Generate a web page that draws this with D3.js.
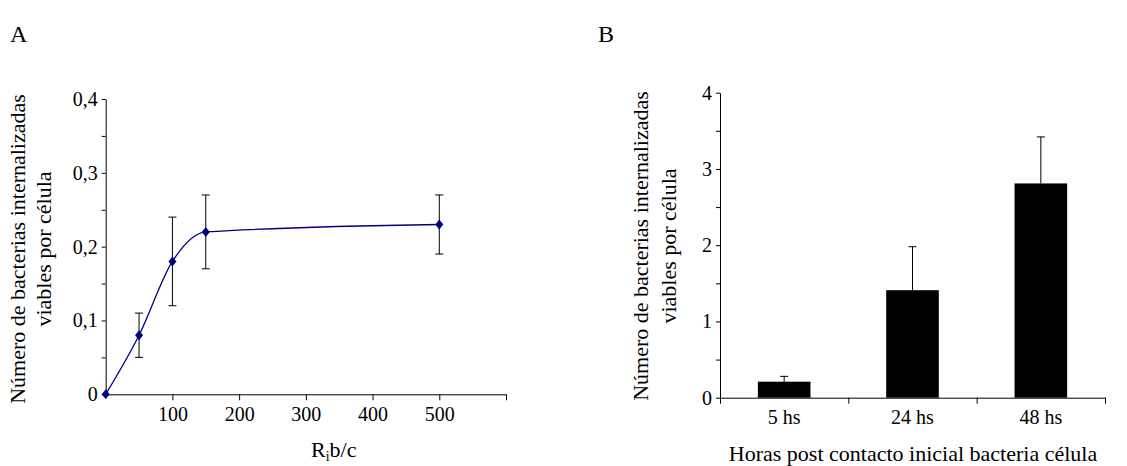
<!DOCTYPE html>
<html>
<head>
<meta charset="utf-8">
<script src="https://cdn.jsdelivr.net/npm/d3@7"></script>
<style>
  body { margin: 0; background: #fff; }
  svg { display: block; font-family: "Liberation Serif", "Times New Roman", serif; }
  .axis path, .axis line { stroke: #000; }
  .axis text { font-family: "Liberation Serif", "Times New Roman", serif; font-size: 20px; fill: #000; }
</style>
</head>
<body>
<svg id="chart" width="1127" height="466"></svg>
<script>
// panel A: bacteria per cell vs ratio
var ratio = [0, 50, 100, 150, 500];
var perCell = [0, 0.08, 0.18, 0.22, 0.23];
var errLow = [null, 0.05, 0.12, 0.17, 0.19];
var errHigh = [null, 0.11, 0.24, 0.27, 0.27];
var ratioTicks = [100, 200, 300, 400, 500, 600];
var perCellTicks = [0, 0.05, 0.1, 0.15, 0.2, 0.25, 0.3, 0.35, 0.4];

// panel B: bacteria per cell vs time
var hours = ["5 hs", "24 hs", "48 hs"];
var hourValues = [0.21, 1.41, 2.81];
var hourErrTop = [0.28, 1.98, 3.42];
var hourTicks = [0, 0.5, 1, 1.5, 2, 2.5, 3, 3.5, 4];

var yTitle = ["Número de bacterias internalizadas", "viables por célula"];

var svg = d3.select("#chart");
var navy = "#000080";

var comma = d => d === 0 ? "0" : d3.format(".1f")(d).replace(".", ",");

// ---------- A ----------
var xA = d3.scaleLinear().domain([0, 600]).range([105.7, 506]);
var yA = d3.scaleLinear().domain([0, 0.4]).range([394.3, 99]);

svg.append("g").attr("class", "axis")
  .attr("transform", "translate(" + xA(0) + ",0)")
  .call(d3.axisLeft(yA).tickValues(perCellTicks).tickSize(4).tickSizeOuter(0)
    .tickFormat(d => Math.round(d * 100) % 10 === 0 ? comma(d) : ""))
  .call(g => g.selectAll("text").attr("x", -8));

svg.append("g").attr("class", "axis")
  .attr("transform", "translate(0," + yA(0) + ")")
  .call(d3.axisBottom(xA).tickValues(ratioTicks).tickSize(6).tickSizeOuter(0)
    .tickFormat(d => d < 600 ? d : ""))
  .call(g => g.selectAll("text").attr("y", 13));

var ptsA = ratio.map((r, i) => ({x: r, y: perCell[i], lo: errLow[i], hi: errHigh[i]}));

svg.append("path")
  .datum(ptsA)
  .attr("fill", "none")
  .attr("stroke", navy)
  .attr("stroke-width", 1.3)
  .attr("d", d3.line().x(d => xA(d.x)).y(d => yA(d.y)).curve(d3.curveMonotoneX));

var errA = svg.append("g").attr("stroke", "#000").attr("stroke-width", 1);
ptsA.filter(d => d.lo != null).forEach(d => {
  var cx = xA(d.x);
  errA.append("line").attr("x1", cx).attr("x2", cx).attr("y1", yA(d.lo)).attr("y2", yA(d.hi));
  errA.append("line").attr("x1", cx - 4).attr("x2", cx + 4).attr("y1", yA(d.lo)).attr("y2", yA(d.lo));
  errA.append("line").attr("x1", cx - 4).attr("x2", cx + 4).attr("y1", yA(d.hi)).attr("y2", yA(d.hi));
});

svg.append("g").selectAll("path")
  .data(ptsA)
  .join("path")
  .attr("transform", d => "translate(" + xA(d.x) + "," + yA(d.y) + ")")
  .attr("d", "M0,-5L4,0L0,5L-4,0Z")
  .attr("fill", navy);

// ---------- B ----------
var xB = d3.scaleBand().domain(hours).range([720, 1105]).padding(0);
var yB = d3.scaleLinear().domain([0, 4]).range([397.7, 92.7]);
var barW = xB.bandwidth() * 0.41;

svg.append("g").attr("class", "axis")
  .attr("transform", "translate(720,0)")
  .call(d3.axisLeft(yB).tickValues(hourTicks).tickSize(4).tickSizeOuter(0)
    .tickFormat(d => d % 1 === 0 ? d : ""))
  .call(g => g.selectAll("text").attr("x", -8));

// category boundaries carry the ticks, labels sit in the middle
var edges = d3.scaleLinear().domain([0, 3]).range([720, 1105]);
svg.append("g").attr("class", "axis")
  .attr("transform", "translate(0," + yB(0) + ")")
  .call(d3.axisBottom(edges).ticks(3).tickSize(6).tickSizeOuter(0).tickFormat(""));
svg.append("g").attr("class", "axis")
  .attr("transform", "translate(0," + yB(0) + ")")
  .call(d3.axisBottom(xB).tickSize(0))
  .call(g => g.select(".domain").remove())
  .call(g => g.selectAll("text").attr("y", 12));

var barsB = hours.map((h, i) => ({h: h, v: hourValues[i], top: hourErrTop[i]}));

svg.append("g").selectAll("line")
  .data(barsB)
  .join("line")
  .attr("x1", d => xB(d.h) + xB.bandwidth() / 2)
  .attr("x2", d => xB(d.h) + xB.bandwidth() / 2)
  .attr("y1", d => yB(d.v))
  .attr("y2", d => yB(d.top))
  .attr("stroke", "#000");
svg.append("g").selectAll("line")
  .data(barsB)
  .join("line")
  .attr("x1", d => xB(d.h) + xB.bandwidth() / 2 - 4)
  .attr("x2", d => xB(d.h) + xB.bandwidth() / 2 + 4)
  .attr("y1", d => yB(d.top))
  .attr("y2", d => yB(d.top))
  .attr("stroke", "#000");

svg.append("g").selectAll("rect")
  .data(barsB)
  .join("rect")
  .attr("x", d => xB(d.h) + (xB.bandwidth() - barW) / 2)
  .attr("width", barW)
  .attr("y", d => yB(d.v))
  .attr("height", d => yB(0) - yB(d.v))
  .attr("fill", "#000");

// ---------- titles ----------
function yLabel(cx, cy, gap) {
  var t = svg.append("text")
    .attr("transform", "translate(" + cx + "," + cy + ") rotate(-90)")
    .attr("text-anchor", "middle")
    .style("font-size", "22px");
  yTitle.forEach((s, i) => t.append("tspan").attr("x", 0).attr("y", i * gap).text(s));
}
yLabel(25, 249, 26);
yLabel(648, 246, 28);

var rb = svg.append("text").attr("x", 311).attr("y", 457).style("font-size", "22px");
rb.append("tspan").text("R");
rb.append("tspan").attr("dy", 4).style("font-size", "14px").text("i");
rb.append("tspan").attr("dy", -4).text("b/c");

svg.append("text").attr("x", 913).attr("y", 461).attr("text-anchor", "middle")
  .style("font-size", "22px").text("Horas post contacto inicial bacteria célula");

svg.append("text").attr("x", 10).attr("y", 42).style("font-size", "24px").text("A");
svg.append("text").attr("x", 598).attr("y", 42).style("font-size", "24px").text("B");
</script>
</body>
</html>
